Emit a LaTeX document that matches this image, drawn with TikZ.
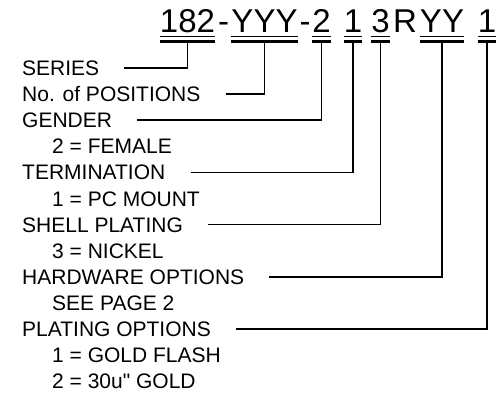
\documentclass[tikz,border=0pt]{standalone}
\usepackage{fontspec}
\setmainfont{Liberation Sans}
\usetikzlibrary{calc}

\tikzset{
  code/.style={font=\fontsize{33}{36}\selectfont, inner sep=0pt, anchor=base},
  group/.style={code, inner ysep=8.5pt, text depth=0pt},
  lbl/.style={font=\fontsize{21}{24}\selectfont, inner sep=0pt, text height=15pt, text depth=0pt, anchor=base west},
  conn/.style={line width=1.5pt},
  bar/.style={line width=3.5pt},
}

\begin{document}
\begin{tikzpicture}[x=1pt, y=1pt]
    \useasboundingbox (0,0) rectangle (502,394);

    % Part number
    \node[group] (ser) at (187.5,361) {182};
    \node[code]  (h1)  at (223.5,361) {-};
    \node[group] (pos) at (264.5,361) {YYY};
    \node[code]  (h2)  at (305,361) {-};
    \node[group] (gen) at (321.5,361) {2};
    \node[group] (ter) at (353,361) {1};
    \node[group] (shl) at (380.5,361) {3};
    \node[code]  (r)   at (405,361) {R};
    \node[group] (hw)  at (442,361) {YY};
    \node[group] (pl)  at (487,361) {1};

    % Underlines and bars
    \foreach \g in {ser,pos,gen,ter,shl,hw,pl} {
        \draw[line width=1.2pt] ([yshift=-3.2pt]\g.base west) -- ([yshift=-3.2pt]\g.base east);
        \draw[bar] (\g.south west) -- (\g.south east);
    }

    % Labels
    \node[lbl] (series) at (22,318.5) {SERIES};
    \node[lbl] (positions) at (22,292.4) {No. of POSITIONS};
    \node[lbl] (gender) at (22,266.3) {GENDER};
    \node[lbl] (female) at (52,240.2) {2 = FEMALE};
    \node[lbl] (termination) at (22,214.1) {TERMINATION};
    \node[lbl] (pcmount) at (52,188.0) {1 = PC MOUNT};
    \node[lbl] (shell) at (22,161.9) {SHELL PLATING};
    \node[lbl] (nickel) at (52,135.8) {3 = NICKEL};
    \node[lbl] (hardware) at (22,109.7) {HARDWARE OPTIONS};
    \node[lbl] (seepage) at (52,83.6) {SEE PAGE 2};
    \node[lbl] (plating) at (22,57.5) {PLATING OPTIONS};
    \node[lbl] (flash) at (52,31.4) {1 = GOLD FLASH};
    \node[lbl] (gold) at (52,5.3) {2 = 30u\textquotedbl{} GOLD};

    % Connectors
    \draw[conn] ([xshift=25pt]series.east) -| (ser.south);
    \draw[conn] ([xshift=25pt]positions.east) -| (pos.south);
    \draw[conn] ([xshift=25pt]gender.east) -| (gen.south);
    \draw[conn] ([xshift=25pt]termination.east) -| (ter.south);
    \draw[conn] ([xshift=25pt]shell.east) -| (shl.south);
    \draw[conn] ([xshift=25pt]hardware.east) -| (hw.south);
    \draw[conn] ([xshift=25pt]plating.east) -| (pl.south);
\end{tikzpicture}
\end{document}
